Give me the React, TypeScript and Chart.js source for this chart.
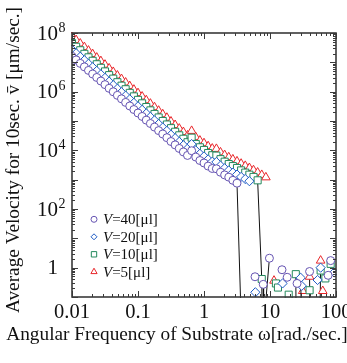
import { useEffect, useRef } from "react";
import { Chart, registerables } from "chart.js";

Chart.register(...registerables);

// ---- data ----
const omega = [
  0.01, 0.01155, 0.01334, 0.0154, 0.01778, 0.02054, 0.02371, 0.02738, 0.03162, 0.03652, 0.04217, 0.0487, 0.05623, 0.06494, 0.07499, 0.0866,
  0.1, 0.1155, 0.1334, 0.154, 0.1778, 0.2054, 0.2371, 0.2738, 0.3162, 0.3652, 0.4217, 0.487, 0.5623, 0.6494, 0.7499, 0.866,
  1, 1.155, 1.334, 1.54, 1.778, 2.054, 2.371, 2.738, 3.162, 3.652, 4.217, 4.87, 5.623, 6.494, 7.499, 8.66,
];

const v40 = [
  1.6e7, 1.21e7, 9.2e6, 7.0e6, 5.3e6, 4.0e6, 3.05e6, 2.3e6, 1.74e6, 1.3e6, 9.9e5, 7.5e5, 5.7e5, 4.3e5, 3.25e5, 2.46e5,
  1.87e5, 1.43e5, 1.07e5, 8.2e4, 6.2e4, 4.7e4, 3.6e4, 2.7e4, 2.0e4, 1.53e4, 1.16e4, 8.8e3, 6.7e3, 9.7e3, 5.9e3, 4.5e3,
  3.7e3, 2.9e3, 2.4e3, 2.35e3, 1.79e3, 1.45e3, 1.22e3, 9.5e2, 7.6e2,
];
const v20 = [
  2.7e7, 2.04e7, 1.55e7, 1.18e7, 8.9e6, 6.8e6, 5.1e6, 3.9e6, 2.95e6, 2.2e6, 1.67e6, 1.26e6, 9.6e5, 7.3e5, 5.5e5, 4.15e5,
  3.16e5, 2.4e5, 1.81e5, 1.38e5, 1.05e5, 7.9e4, 6.0e4, 4.6e4, 3.4e4, 2.6e4, 1.95e4, 1.49e4, 1.14e4, 1.63e4, 9.9e3, 7.6e3,
  6.2e3, 4.9e3, 4.1e3, 4.0e3, 3.0e3, 2.45e3, 2.06e3, 1.74e3, 1.49e3, 1.24e3, 1.05e3, 8.9e2,
];
const v10 = [
  4.5e7, 3.4e7, 2.58e7, 1.95e7, 1.48e7, 1.13e7, 8.6e6, 6.5e6, 4.9e6, 3.66e6, 2.78e6, 2.1e6, 1.6e6, 1.21e6, 9.1e5, 6.9e5,
  5.25e5, 4.0e5, 3.0e5, 2.3e5, 1.74e5, 1.32e5, 1.0e5, 7.6e4, 5.7e4, 4.3e4, 3.25e4, 2.48e4, 1.89e4, 2.7e4, 1.65e4, 1.27e4,
  1.03e4, 8.1e3, 6.8e3, 6.6e3, 5.0e3, 4.1e3, 3.4e3, 2.9e3, 2.5e3, 2.07e3, 1.74e3, 1.48e3, 1.24e3, 9.5e2,
];
const v5 = [
  7.6e7, 5.75e7, 4.37e7, 3.31e7, 2.51e7, 1.91e7, 1.45e7, 1.1e7, 8.3e6, 6.2e6, 4.7e6, 3.55e6, 2.7e6, 2.05e6, 1.55e6, 1.17e6,
  8.9e5, 6.8e5, 5.1e5, 3.9e5, 2.95e5, 2.24e5, 1.7e5, 1.29e5, 9.6e4, 7.3e4, 5.5e4, 4.2e4, 3.2e4, 4.6e4, 2.8e4, 2.15e4,
  1.75e4, 1.38e4, 1.15e4, 1.12e4, 8.5e3, 6.9e3, 5.8e3, 4.9e3, 4.2e3, 3.5e3, 2.95e3, 2.5e3, 2.1e3, 1.75e3, 1.45e3, 1.2e3,
];

// tails beyond the breakdown (0 = zero velocity, null = break in the line)
const v40TailX = [3.8, 3.8, 5.93, 5.93, 7.9, 8.0, 8.0, 7.35, 9.8, 9.8, 15.2, 15.2, 18.2, 18.2, 25.7, 25.7, 39.8, 39.8, 76, 76, 83];
const v40TailY = [0, null, 0.49, null, 0.27, 0, null, 0, 2.1, null, 0.85, null, 0.47, null, 0.29, null, 0.74, null, 0.55, null, 1.74];
const v20TailX = [4.87, 6.0, 6.0, 15.5, 15.5, 29.2, 30.5, 30.5, 30.2, 30.2, 52.6, 52.6, 58.5, 58.5, 93.9];
const v20TailY = [null, 0.145, null, 0.29, null, 0.45, 0, null, 0.24, null, 0.38, null, 1.0, null, 0.69];
const v10TailX = [7.5, 7.7, 7.7, 12.3, 12.3, 13.2, 13.2, 19.2, 19.2, 24.6, 25.0, 25.0, 39.8, 39.8, 58.5, 58.5, 69, 69, 83];
const v10TailY = [0.41, 0, null, 0.29, null, 0.21, null, 0.12, null, 0.6, 0, null, 0.17, null, 0.8, null, 0.43, null, 1.35];
const v5TailX = [8.66, 11.5, 11.5, 31.3, 31.3, 39.8, 40.5, 40.5, 56.5, 58.5, 58.5, 63];
const v5TailY = [null, 0.36, null, 0.16, null, 0.49, 0, null, 0, 1.74, null, 0.16];

const seriesNames = ["40", "20", "10", "5"];
const xTickValues = [0.01, 0.1, 1, 10, 100];
const xTickLabels = ["0.01", "0.1", "1", "10", "100"];
const yTickValues = [1e8, 1e6, 1e4, 1e2, 1];
const yTickExps = ["8", "6", "4", "2", ""];

const xTitle = "Angular Frequency of Substrate \u03c9[rad./sec.]";
const yTitle = "Average Velocity for 10sec. v\u0304 [\u03bcm/sec.]";

// ---- styles ----
const FONT = "'Liberation Serif', 'Times New Roman', Times, serif";
const colors = ["#6654b2", "#1f5cc6", "#23895c", "#e8262a"];
const styles = ["circle", "rectRot", "rect", "triangle"];
const radii = [4, 4.6, 5, 5];
const ZERO = 0.001;

function build(dense: number[], tx: number[], ty: (number | null)[]) {
  const pts: { x: number; y: number | null }[] = dense.map((y, i) => ({ x: omega[i], y }));
  tx.forEach((x, i) => {
    const y = ty[i];
    pts.push({ x, y: y === null ? null : y === 0 ? ZERO : y });
  });
  return pts;
}

function marker(ctx: CanvasRenderingContext2D, style: string, x: number, y: number, r: number) {
  ctx.beginPath();
  if (style === "circle") ctx.arc(x, y, r, 0, Math.PI * 2);
  else if (style === "rectRot") {
    ctx.moveTo(x, y - r); ctx.lineTo(x + r, y); ctx.lineTo(x, y + r); ctx.lineTo(x - r, y); ctx.closePath();
  } else if (style === "rect") {
    const s = r * Math.SQRT1_2;
    ctx.rect(x - s, y - s, 2 * s, 2 * s);
  } else {
    ctx.moveTo(x, y - r);
    ctx.lineTo(x + r * Math.sin((2 * Math.PI) / 3), y - r * Math.cos((2 * Math.PI) / 3));
    ctx.lineTo(x + r * Math.sin((4 * Math.PI) / 3), y - r * Math.cos((4 * Math.PI) / 3));
    ctx.closePath();
  }
  ctx.fillStyle = "#fff";
  ctx.fill();
  ctx.stroke();
}

const decor = {
  id: "decor",
  afterDraw(chart: any) {
    const { ctx, chartArea: a, scales } = chart;
    const xs = scales.x, ys = scales.y;
    ctx.save();
    ctx.strokeStyle = "#3a3a3a";
    ctx.lineWidth = 1;
    const seg = (x1: number, y1: number, x2: number, y2: number) => {
      ctx.beginPath(); ctx.moveTo(x1, y1); ctx.lineTo(x2, y2); ctx.stroke();
    };
    for (let e = -2; e <= 2; e++) {
      for (let m = 1; m <= 9; m++) {
        const v = m * Math.pow(10, e);
        if (v > 100.0001) break;
        const px = Math.round(xs.getPixelForValue(v)) + 0.5;
        const len = m === 1 ? 6 : 3;
        seg(px, a.bottom, px, a.bottom - len);
        seg(px, a.top, px, a.top + len);
      }
    }
    for (let e = -1; e <= 8; e++) {
      for (let m = 1; m <= 9; m++) {
        const v = m * Math.pow(10, e);
        if (v > 1.0001e8) break;
        const py = Math.round(ys.getPixelForValue(v)) + 0.5;
        const len = m === 1 ? 6 : 3;
        seg(a.left, py, a.left + len, py);
        seg(a.right, py, a.right - len, py);
      }
    }
    ctx.lineWidth = 1.6;
    ctx.strokeRect(a.left, a.top, a.right - a.left, a.bottom - a.top);

    ctx.fillStyle = "#111";
    // x tick labels
    ctx.font = `20.5px ${FONT}`;
    ctx.textAlign = "center";
    ctx.textBaseline = "alphabetic";
    xTickValues.forEach((v, i) => {
      ctx.fillText(xTickLabels[i], xs.getPixelForValue(v), a.bottom + 21);
    });
    // y tick labels
    yTickValues.forEach((v, i) => {
      const py = ys.getPixelForValue(v);
      ctx.font = `21px ${FONT}`;
      ctx.textAlign = "right";
      ctx.textBaseline = "middle";
      const base = yTickExps[i] === "" ? "1" : "10";
      ctx.fillText(base, 58, py + 1);
      if (yTickExps[i]) {
        ctx.font = `14px ${FONT}`;
        ctx.textAlign = "left";
        ctx.fillText(yTickExps[i], 58.5, py - 5);
      }
    });
    // axis titles
    ctx.font = `19.3px ${FONT}`;
    ctx.textAlign = "center";
    ctx.textBaseline = "alphabetic";
    ctx.fillText(xTitle, 177, 340);
    ctx.save();
    ctx.translate(19, 160);
    ctx.rotate(-Math.PI / 2);
    ctx.fillText(yTitle, 0, 0);
    ctx.restore();

    // legend
    const ly = [219.3, 236.8, 254.3, 271.8];
    seriesNames.forEach((n, i) => {
      ctx.strokeStyle = colors[i];
      ctx.lineWidth = 1;
      marker(ctx, styles[i], 94, ly[i], styles[i] === "triangle" ? 3.6 : styles[i] === "rect" ? 3.8 : 3);
      ctx.fillStyle = "#111";
      ctx.textAlign = "left";
      ctx.textBaseline = "alphabetic";
      ctx.font = `italic 15px ${FONT}`;
      ctx.fillText("V", 103, ly[i] + 5);
      const w = ctx.measureText("V").width;
      ctx.font = `15px ${FONT}`;
      ctx.fillText(`=${n}[\u03bcl]`, 103 + w, ly[i] + 5);
    });
    ctx.restore();
  },
};

export default function App() {
  const ref = useRef<HTMLCanvasElement>(null);
  useEffect(() => {
    const dense = [v40, v20, v10, v5];
    const tx = [v40TailX, v20TailX, v10TailX, v5TailX];
    const ty = [v40TailY, v20TailY, v10TailY, v5TailY];
    const datasets = dense.map((d, i) => ({
      label: `V=${seriesNames[i]}[\u03bcl]`,
      data: build(d, tx[i], ty[i]),
      borderColor: "rgba(0,0,0,0)",
      borderWidth: 1,
      pointStyle: styles[i],
      pointRadius: radii[i],
      pointBorderWidth: 1,
      pointBorderColor: colors[i],
      pointBackgroundColor: "#ffffff",
      clip: 1,
      segment: {
        borderColor: (c: any) =>
          c.p0.parsed.y < 10 || c.p1.parsed.y < 10 ? "#111" : "rgba(0,0,0,0)",
      },
    }));
    const chart = new Chart(ref.current!, {
      type: "line",
      data: { datasets },
      options: {
        responsive: false,
        animation: false,
        events: [],
        layout: { padding: { left: 72, right: 11, top: 33, bottom: 66 } },
        plugins: { legend: { display: false }, tooltip: { enabled: false } },
        scales: {
          x: { type: "logarithmic", min: 0.01, max: 100, display: false },
          y: { type: "logarithmic", min: 0.1, max: 1e8, display: false },
        },
      },
      plugins: [decor],
    });
    return () => chart.destroy();
  }, []);
  return (
    <div style={{ position: "fixed", left: 0, top: 0, width: 347, height: 363, background: "#fff" }}>
      <canvas ref={ref} width={347} height={363} style={{ display: "block" }} />
    </div>
  );
}
